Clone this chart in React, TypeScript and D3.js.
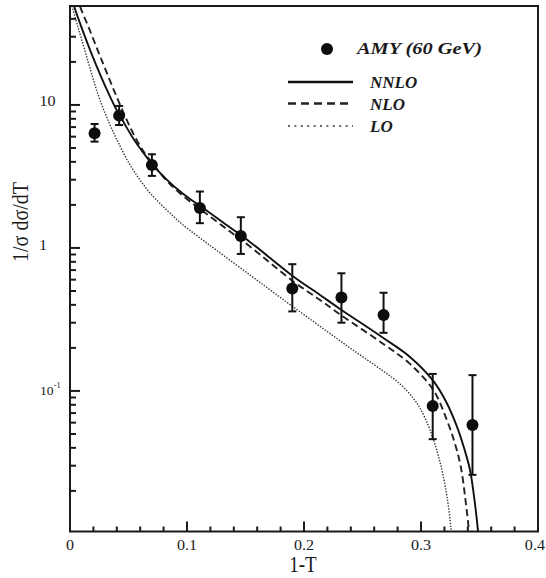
import React from 'react';
import * as d3 from 'd3';

// Canvas and plot frame (pixels)
const W = 546;
const H = 578;
const frame = { left: 70, right: 538, top: 6, bottom: 531.5 };

// Axis domains
const xDomain: [number, number] = [0, 0.4];
const yDomain: [number, number] = [0.0104, 49.2];

// Tick values and labels
const xMajorTicks = [0, 0.1, 0.2, 0.3, 0.4];
const xTickLabels = ['0', '0.1', '0.2', '0.3', '0.4'];
const xMinorTicks = [0.02, 0.04, 0.06, 0.08, 0.12, 0.14, 0.16, 0.18, 0.22, 0.24, 0.26, 0.28, 0.32, 0.34, 0.36, 0.38];
const yMajorTicks = [0.1, 1, 10];
const yMinorTicks = [
  0.02, 0.03, 0.04, 0.05, 0.06, 0.07, 0.08, 0.09,
  0.2, 0.3, 0.4, 0.5, 0.6, 0.7, 0.8, 0.9,
  2, 3, 4, 5, 6, 7, 8, 9,
  20, 30, 40,
];

// AMY measurement at 60 GeV: thrust bins, values and error bar ends
const amyX = [0.021, 0.042, 0.070, 0.111, 0.146, 0.190, 0.232, 0.268, 0.310, 0.344];
const amyY = [6.34, 8.42, 3.80, 1.90, 1.21, 0.52, 0.45, 0.34, 0.0785, 0.0578];
const amyHi = [7.36, 9.84, 4.52, 2.48, 1.64, 0.77, 0.665, 0.486, 0.1315, 0.129];
const amyLo = [5.54, 7.24, 3.19, 1.49, 0.908, 0.36, 0.30, 0.255, 0.046, 0.0259];

// NNLO prediction
const nnloX = [0.0009, 0.0034, 0.0103, 0.0171, 0.0231, 0.0308, 0.0385, 0.0462, 0.0538, 0.0701, 0.0829, 0.0966, 0.1111, 0.135, 0.1538, 0.1903, 0.2137, 0.2308, 0.2678, 0.2906, 0.3105, 0.322, 0.3305, 0.3368, 0.3419, 0.3457, 0.3487, 0.3496];
const nnloY = [56.9, 49.2, 34.0, 24.3, 18.4, 13.15, 9.68, 7.48, 5.88, 3.87, 2.99, 2.39, 1.97, 1.425, 1.102, 0.637, 0.469, 0.3745, 0.2348, 0.1729, 0.1175, 0.0824, 0.0569, 0.0399, 0.028, 0.0173, 0.0105, 0.0084];

// NLO prediction
const nloX = [0.0064, 0.0085, 0.0162, 0.0239, 0.0308, 0.0385, 0.0462, 0.0538, 0.0615, 0.0701, 0.0829, 0.0966, 0.1111, 0.135, 0.1538, 0.1903, 0.2137, 0.2308, 0.2678, 0.2906, 0.3105, 0.3214, 0.3291, 0.3342, 0.338, 0.341, 0.3419];
const nloY = [57.8, 49.2, 34.5, 23.9, 17.3, 12.13, 8.65, 6.37, 4.92, 3.93, 2.94, 2.31, 1.874, 1.336, 1.024, 0.5877, 0.4329, 0.3428, 0.2132, 0.1545, 0.1016, 0.0648, 0.0426, 0.0289, 0.0173, 0.0105, 0.0084];

// LO prediction
const loX = [0.0017, 0.0068, 0.0128, 0.0188, 0.0256, 0.0342, 0.0427, 0.0513, 0.0598, 0.0684, 0.0826, 0.0966, 0.1111, 0.1254, 0.1538, 0.1821, 0.2109, 0.2393, 0.2675, 0.2821, 0.2932, 0.2991, 0.3077, 0.3162, 0.322, 0.3256, 0.3265];
const loY = [49.2, 35.1, 23.9, 16.2, 10.84, 7.25, 5.17, 3.81, 2.99, 2.425, 1.844, 1.448, 1.175, 0.96, 0.6474, 0.4363, 0.2941, 0.1999, 0.138, 0.1119, 0.0893, 0.076, 0.0534, 0.0319, 0.0187, 0.011, 0.0084];

const legendItems = [
  { label: 'NNLO', dash: 'none', width: 2.6, color: '#111' },
  { label: 'NLO', dash: '8,5', width: 2.4, color: '#222' },
  { label: 'LO', dash: '2,4.4', width: 1.6, color: '#333' },
];

const FONT = '"Liberation Serif", "Times New Roman", Times, serif';

type LabelProps = {
  x: number;
  y: number;
  size: number;
  sx?: number;
  sy?: number;
  anchor?: 'start' | 'middle' | 'end';
  bold?: boolean;
  italic?: boolean;
  children: React.ReactNode;
};

function Label({ x, y, size, sx = 1, sy = 1, anchor = 'middle', bold, italic, children }: LabelProps) {
  return (
    <text
      transform={`translate(${x},${y}) scale(${sx},${sy})`}
      fontSize={size}
      fontFamily={FONT}
      fontWeight={bold ? 'bold' : 'normal'}
      fontStyle={italic ? 'italic' : 'normal'}
      textAnchor={anchor}
      fill="#1a1a1a"
    >
      {children}
    </text>
  );
}

export default function App() {
  const x = d3.scaleLinear().domain(xDomain).range([frame.left, frame.right]);
  const y = d3.scaleLog().domain(yDomain).range([frame.bottom, frame.top]);

  const line = d3
    .line<[number, number]>()
    .x((d) => x(d[0]))
    .y((d) => y(d[1]))
    .curve(d3.curveCatmullRom.alpha(0.5));

  const nnloPath = line(nnloX.map((v, i) => [v, nnloY[i]] as [number, number])) || '';
  const nloPath = line(nloX.map((v, i) => [v, nloY[i]] as [number, number])) || '';
  const loPath = line(loX.map((v, i) => [v, loY[i]] as [number, number])) || '';

  const axisColor = '#1a1a1a';

  return (
    <svg
      width={W}
      height={H}
      viewBox={`0 0 ${W} ${H}`}
      style={{ position: 'absolute', left: 0, top: 0, background: '#fff' }}
    >
      <defs>
        <clipPath id="plot-clip">
          <rect
            x={frame.left}
            y={frame.top}
            width={frame.right - frame.left}
            height={frame.bottom - frame.top}
          />
        </clipPath>
      </defs>
      <rect x={0} y={0} width={W} height={H} fill="#fff" />

      {/* theory curves */}
      <g clipPath="url(#plot-clip)" fill="none">
        <path d={loPath} stroke="#333" strokeWidth={1.4} strokeDasharray="1.4,1.5" />
        <path d={nloPath} stroke="#222" strokeWidth={1.9} strokeDasharray="7,4" />
        <path d={nnloPath} stroke="#111" strokeWidth={1.9} />
      </g>

      {/* AMY data with error bars */}
      <g stroke="#111" strokeWidth={2}>
        {amyX.map((v, i) => {
          const cx = x(v);
          return (
            <g key={`eb-${i}`}>
              <line x1={cx} x2={cx} y1={y(amyHi[i])} y2={y(amyLo[i])} />
              <line x1={cx - 4} x2={cx + 4} y1={y(amyHi[i])} y2={y(amyHi[i])} />
              <line x1={cx - 4} x2={cx + 4} y1={y(amyLo[i])} y2={y(amyLo[i])} />
            </g>
          );
        })}
      </g>
      <g fill="#0d0d0d">
        {amyX.map((v, i) => (
          <circle key={`pt-${i}`} cx={x(v)} cy={y(amyY[i])} r={6} />
        ))}
      </g>

      {/* frame */}
      <rect
        x={frame.left}
        y={frame.top}
        width={frame.right - frame.left}
        height={frame.bottom - frame.top}
        fill="none"
        stroke={axisColor}
        strokeWidth={2}
      />

      {/* ticks, drawn inward */}
      <g stroke={axisColor} strokeWidth={2}>
        {xMajorTicks.map((t) => (
          <line key={`xM-${t}`} x1={x(t)} x2={x(t)} y1={frame.bottom} y2={frame.bottom - 10} />
        ))}
        {xMinorTicks.map((t) => (
          <line key={`xm-${t}`} x1={x(t)} x2={x(t)} y1={frame.bottom} y2={frame.bottom - 5} />
        ))}
        {yMajorTicks.map((t) => (
          <line key={`yM-${t}`} x1={frame.left} x2={frame.left + 10} y1={y(t)} y2={y(t)} />
        ))}
        {yMinorTicks.map((t) => (
          <line key={`ym-${t}`} x1={frame.left} x2={frame.left + 6} y1={y(t)} y2={y(t)} />
        ))}
      </g>

      {/* x tick labels */}
      {xMajorTicks.map((t, i) => {
        const last = i === xMajorTicks.length - 1;
        return (
          <Label
            key={`xl-${t}`}
            x={last ? W - 1 : x(t)}
            y={frame.bottom + 18}
            size={14}
            sx={1.15}
            anchor={last ? 'end' : 'middle'}
          >
            {xTickLabels[i]}
          </Label>
        );
      })}

      {/* y tick labels */}
      <Label x={47.5} y={y(10) + 1} size={14} sx={1.15}>10</Label>
      <Label x={43} y={y(1) + 2} size={14} sx={1.15}>1</Label>
      <Label x={40} y={y(0.1) + 4} size={13} sx={1.05} anchor="start">
        10
        <tspan fontSize={8} dy={-7}>-1</tspan>
      </Label>

      {/* axis titles */}
      <Label x={303} y={572} size={19} sy={1.2}>1-T</Label>
      <text
        transform="translate(28,222) rotate(-90) scale(1,1.15)"
        fontSize={20}
        fontFamily={FONT}
        textAnchor="middle"
        fill="#1a1a1a"
      >
        1/σ dσ/dT
      </text>

      {/* legend */}
      <circle cx={327} cy={49} r={6} fill="#0d0d0d" />
      <Label x={357} y={53.5} size={17} sx={1.2} anchor="start" bold italic>
        AMY  (60 GeV)
      </Label>
      {legendItems.map((item, i) => {
        const ly = [82, 103.5, 126][i];
        return (
          <g key={item.label}>
            <line
              x1={288}
              x2={353}
              y1={ly}
              y2={ly}
              stroke={item.color}
              strokeWidth={item.width}
              strokeDasharray={item.dash}
            />
            <Label x={370} y={ly + 6} size={17} anchor="start" bold italic>
              {item.label}
            </Label>
          </g>
        );
      })}
    </svg>
  );
}
